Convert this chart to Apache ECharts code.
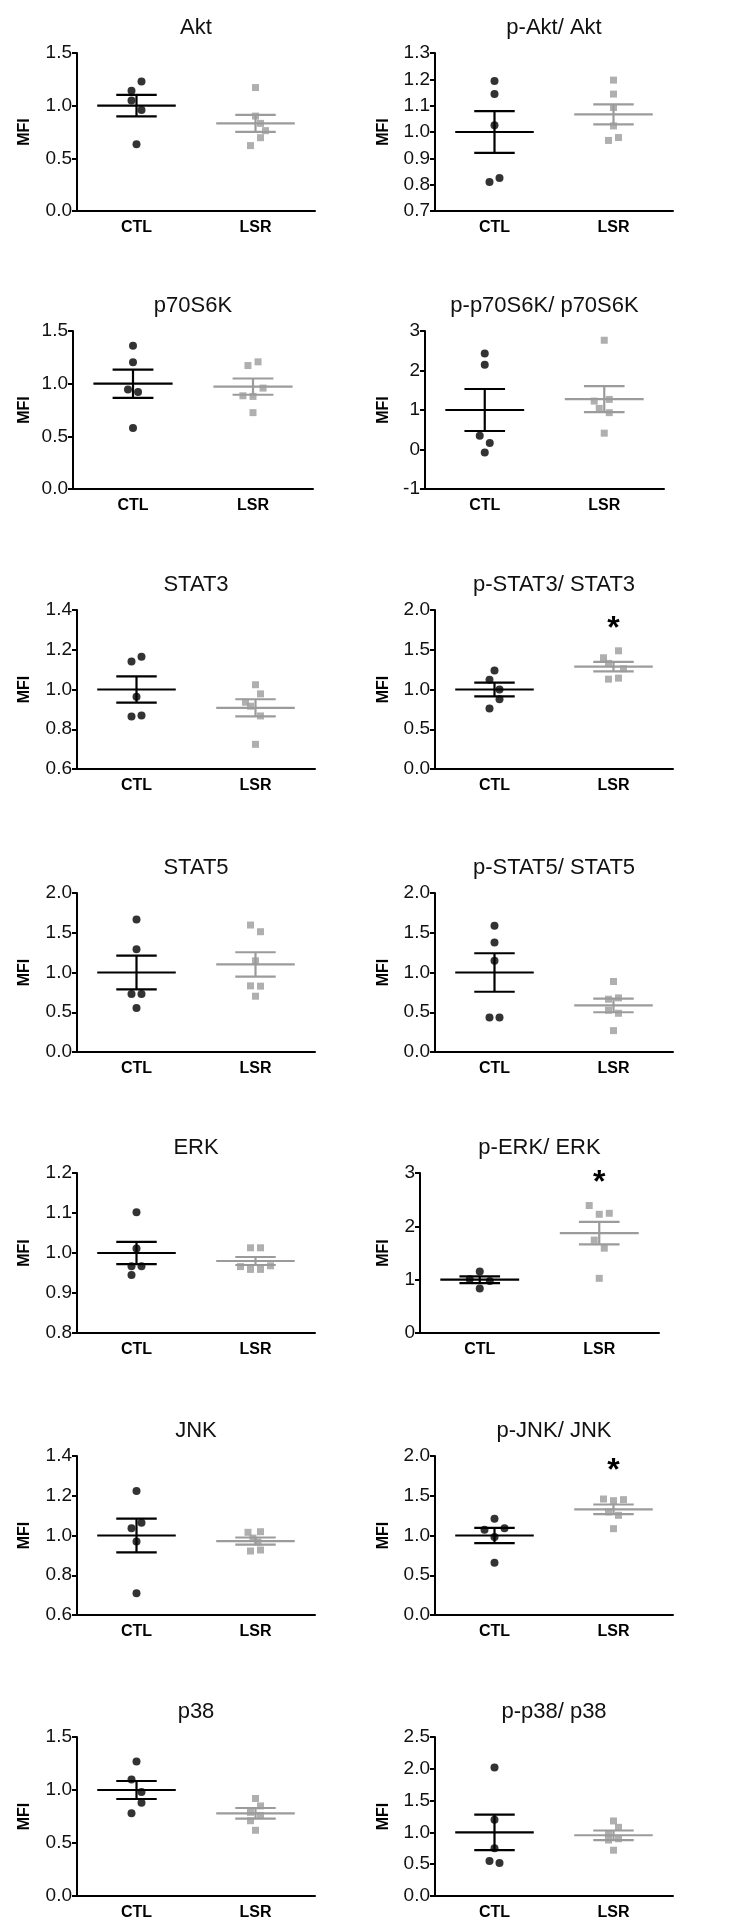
<!DOCTYPE html>
<html><head><meta charset="utf-8">
<script src="https://cdn.jsdelivr.net/npm/echarts@6/dist/echarts.min.js"></script>
<style>html,body{margin:0;padding:0;background:#fff}#c{width:734px;height:1925px}</style>
</head><body><div id="c"></div>
<script>
// ---------- DATA ----------
const groups = ['CTL', 'LSR'];
const titles = ['Akt', 'p-Akt/ Akt', 'p70S6K', 'p-p70S6K/ p70S6K', 'STAT3', 'p-STAT3/ STAT3',
  'STAT5', 'p-STAT5/ STAT5', 'ERK', 'p-ERK/ ERK', 'JNK', 'p-JNK/ JNK', 'p38', 'p-p38/ p38'];

// y axis ranges (min, max, interval, decimals of tick labels)
const yMin = [0, 0.7, 0, -1, 0.6, 0, 0, 0, 0.8, 0, 0.6, 0, 0, 0];
const yMax = [1.5, 1.3, 1.5, 3, 1.4, 2, 2, 2, 1.2, 3, 1.4, 2, 1.5, 2.5];
const yInterval = [0.5, 0.1, 0.5, 1, 0.2, 0.5, 0.5, 0.5, 0.1, 1, 0.2, 0.5, 0.5, 0.5];
const yDecimals = [1, 1, 1, 0, 1, 1, 1, 1, 1, 0, 1, 1, 1, 1];

const aktCTL = [1.229, 1.141, 1.049, 0.958, 0.633];
const aktLSR = [1.172, 0.901, 0.832, 0.763, 0.696, 0.621];
const aktMean = [1.00, 0.832];
const aktSEM = [0.102, 0.080];

const pAktCTL = [1.194, 1.144, 1.026, 0.825, 0.810];
const pAktLSR = [1.197, 1.144, 1.093, 1.023, 0.979, 0.968];
const pAktMean = [1.00, 1.067];
const pAktSEM = [0.079, 0.038];

const p70CTL = [1.361, 1.204, 0.945, 0.920, 0.580];
const p70LSR = [1.207, 1.172, 0.958, 0.885, 0.879, 0.725];
const p70Mean = [1.00, 0.972];
const p70SEM = [0.134, 0.077];

const pp70CTL = [2.431, 2.146, 0.347, 0.163, -0.079];
const pp70LSR = [2.766, 1.268, 1.226, 1.042, 0.933, 0.414];
const pp70Mean = [1.00, 1.275];
const pp70SEM = [0.532, 0.327];

const stat3CTL = [1.165, 1.141, 0.963, 0.869, 0.864];
const stat3LSR = [1.024, 0.978, 0.936, 0.916, 0.867, 0.724];
const stat3Mean = [1.00, 0.908];
const stat3SEM = [0.066, 0.043];

const pStat3CTL = [1.239, 1.122, 1.000, 0.878, 0.761];
const pStat3LSR = [1.487, 1.399, 1.328, 1.261, 1.143, 1.130];
const pStat3Mean = [1.00, 1.288];
const pStat3SEM = [0.086, 0.059];

const stat5CTL = [1.668, 1.294, 0.731, 0.731, 0.555];
const stat5LSR = [1.597, 1.513, 1.147, 0.832, 0.828, 0.702];
const stat5Mean = [1.00, 1.102];
const stat5SEM = [0.212, 0.153];

const pStat5CTL = [1.588, 1.378, 1.147, 0.433, 0.433];
const pStat5LSR = [0.887, 0.681, 0.664, 0.525, 0.487, 0.269];
const pStat5Mean = [1.00, 0.586];
const pStat5SEM = [0.242, 0.086];

const erkCTL = [1.102, 1.011, 0.967, 0.967, 0.945];
const erkLSR = [1.013, 1.013, 0.968, 0.966, 0.959, 0.959];
const erkMean = [1.00, 0.980];
const erkSEM = [0.028, 0.010];

const pErkCTL = [1.151, 1.006, 0.975, 0.836];
const pErkLSR = [2.390, 2.245, 2.226, 1.742, 1.591, 1.025];
const pErkMean = [1.00, 1.871];
const pErkSEM = [0.063, 0.211];

const jnkCTL = [1.224, 1.064, 1.036, 0.970, 0.710];
const jnkLSR = [1.019, 1.016, 0.987, 0.967, 0.927, 0.922];
const jnkMean = [1.00, 0.972];
const jnkSEM = [0.085, 0.018];

const pJnkCTL = [1.212, 1.090, 1.073, 0.981, 0.658];
const pJnkLSR = [1.459, 1.451, 1.438, 1.296, 1.254, 1.086];
const pJnkMean = [1.00, 1.329];
const pJnkSEM = [0.095, 0.061];

const p38CTL = [1.27, 1.10, 0.98, 0.88, 0.78];
const p38LSR = [0.92, 0.85, 0.79, 0.76, 0.71, 0.62];
const p38Mean = [1.00, 0.78];
const p38SEM = [0.085, 0.05];

const pP38CTL = [2.02, 1.20, 0.75, 0.55, 0.52];
const pP38LSR = [1.18, 1.08, 0.98, 0.90, 0.88, 0.72];
const pP38Mean = [1.00, 0.955];
const pP38SEM = [0.28, 0.075];

// significance marks (value at which the "*" sits above LSR), null = none
const starY = [null, null, null, null, null, 1.83, null, null, null, 2.92, null, 1.887, null, null];

// ---------- JITTER (horizontal scatter spread, in steps) ----------
const jitCTL = [[1,-1,-1,1,0],[0,0,0,1,-1],[0,0,-1,1,0],[0,0,-1,1,0],[1,-1,0,1,-1],[0,-1,1,1,-1],[0,0,-1,1,0],
  [0,0,0,-1,1],[0,0,-1,1,-1],[0,-2,2,0],[0,1,-1,0,0],[0,2,-2,0,0],[0,-1,1,1,-1],[0,0,0,-1,1]];
const jitLSR = [[0,0,1,2,1,-1],[0,0,0,0,1,-1],[1,-1,2,-2,0,0],[0,1,-2,-1,1,0],[0,1,-2,-1,1,0],[1,-2,-1,2,1,-1],
  [-1,1,0,-1,1,0],[0,1,-1,-1,1,0],[-1,1,3,-3,-1,1],[-2,2,0,-1,1,0],[1,-1.5,-0.5,0.5,1,-1],[-2,2,0,-1,1,0],
  [0,1,-1,1,-1,0],[0,1,-1,1,-1,0]];

const ctlVals = [aktCTL, pAktCTL, p70CTL, pp70CTL, stat3CTL, pStat3CTL, stat5CTL, pStat5CTL, erkCTL, pErkCTL, jnkCTL, pJnkCTL, p38CTL, pP38CTL];
const lsrVals = [aktLSR, pAktLSR, p70LSR, pp70LSR, stat3LSR, pStat3LSR, stat5LSR, pStat5LSR, erkLSR, pErkLSR, jnkLSR, pJnkLSR, p38LSR, pP38LSR];
const means = [aktMean, pAktMean, p70Mean, pp70Mean, stat3Mean, pStat3Mean, stat5Mean, pStat5Mean, erkMean, pErkMean, jnkMean, pJnkMean, p38Mean, pP38Mean];
const sems = [aktSEM, pAktSEM, p70SEM, pp70SEM, stat3SEM, pStat3SEM, stat5SEM, pStat5SEM, erkSEM, pErkSEM, jnkSEM, pJnkSEM, p38SEM, pP38SEM];

// ---------- LAYOUT / STYLE ----------
const FONT = 'Liberation Sans, Arial, Helvetica, sans-serif';
const CTL_COLOR = '#000000';
const LSR_COLOR = '#9b9b9b';
const JIT = 0.042;          // x-units per jitter step
const MEAN_HW = 0.33;       // half width of mean line (x units)
const CAP_HW = 0.17;        // half width of SEM caps
const rowTop = [53, 331, 610, 893, 1173, 1456, 1737];
const rowH = [158, 158, 159, 159, 160, 159, 159];
const leftX = [77, 73, 77, 77, 77, 77, 77];
const leftW = [238, 240, 238, 238, 238, 238, 238];
const rightX = [435, 425, 435, 435, 420, 435, 435];
const rightW = [238, 239, 238, 238, 239, 238, 238];
const mfiX = [25, 384];

const chart = echarts.init(document.getElementById('c'), null, {renderer: 'canvas'});

const grid = [], xAxis = [], yAxis = [], series = [], title = [];

function meanSemItem(params, api) {
  const x = api.value(0), m = api.value(1), s = api.value(2);
  const color = params.dataIndex === 0 ? CTL_COLOR : LSR_COLOR;
  const pm = api.coord([x, m]);
  const pu = api.coord([x, m + s]);
  const pl = api.coord([x, m - s]);
  const hw = api.size([MEAN_HW, 0])[0];
  const cw = api.size([CAP_HW, 0])[0];
  const style = {stroke: color, lineWidth: 2.2};
  return {type: 'group', children: [
    {type: 'line', shape: {x1: pm[0] - hw, y1: pm[1], x2: pm[0] + hw, y2: pm[1]}, style},
    {type: 'line', shape: {x1: pu[0] - cw, y1: pu[1], x2: pu[0] + cw, y2: pu[1]}, style},
    {type: 'line', shape: {x1: pl[0] - cw, y1: pl[1], x2: pl[0] + cw, y2: pl[1]}, style},
    {type: 'line', shape: {x1: pu[0], y1: pu[1], x2: pl[0], y2: pl[1]}, style}
  ]};
}

function starItem(params, api) {
  const p = api.coord([api.value(0), api.value(1)]);
  return {type: 'text', x: p[0], y: p[1] + 6, style: {text: '*', fill: '#000', font: 'bold 32px ' + FONT, align: 'center', verticalAlign: 'middle'}};
}

for (let i = 0; i < 14; i++) {
  const r = Math.floor(i / 2), side = i % 2;
  const gl = side ? rightX[r] : leftX[r];
  const gw = side ? rightW[r] : leftW[r];
  grid.push({left: gl, top: rowTop[r], width: gw, height: rowH[r]});
  title.push({text: titles[i], left: gl + gw / 2, top: rowTop[r] - 37, textAlign: 'center', padding: 0,
    textStyle: {fontFamily: FONT, fontSize: 22, fontWeight: 'normal', color: '#111', lineHeight: 24}});
  xAxis.push({gridIndex: i, type: 'category', data: groups, boundaryGap: true,
    axisLine: {onZero: false, lineStyle: {color: '#000', width: 2}},
    axisTick: {alignWithLabel: true, length: 5, lineStyle: {color: '#000', width: 2}},
    axisLabel: {color: '#000', fontFamily: FONT, fontSize: 16, fontWeight: 'bold', margin: 9},
    splitLine: {show: false}});
  xAxis.push({gridIndex: i, type: 'value', min: 0, max: 2, show: false});
  const dec = yDecimals[i];
  yAxis.push({gridIndex: i, type: 'value', min: yMin[i], max: yMax[i], interval: yInterval[i],
    axisLine: {show: true, onZero: false, lineStyle: {color: '#000', width: 2}},
    axisTick: {show: true, length: 5, lineStyle: {color: '#000', width: 2}},
    axisLabel: {color: '#111', fontFamily: FONT, fontSize: 19, margin: 5, formatter: v => Number(v).toFixed(dec)},
    splitLine: {show: false},
    name: 'MFI', nameLocation: 'middle', nameRotate: 90, nameGap: gl - mfiX[side] - 8,
    nameTextStyle: {color: '#000', fontFamily: FONT, fontSize: 16, fontWeight: 'bold'}});
  const xi = 2 * i + 1;
  series.push({type: 'scatter', xAxisIndex: xi, yAxisIndex: i, symbol: 'circle', symbolSize: 8,
    itemStyle: {color: CTL_COLOR}, silent: true,
    data: ctlVals[i].map((v, k) => [0.5 + jitCTL[i][k] * JIT, v])});
  series.push({type: 'scatter', xAxisIndex: xi, yAxisIndex: i, symbol: 'rect', symbolSize: 7,
    itemStyle: {color: LSR_COLOR}, silent: true,
    data: lsrVals[i].map((v, k) => [1.5 + jitLSR[i][k] * JIT, v])});
  series.push({type: 'custom', xAxisIndex: xi, yAxisIndex: i, renderItem: meanSemItem, silent: true,
    data: [[0.5, means[i][0], sems[i][0]], [1.5, means[i][1], sems[i][1]]]});
  if (starY[i] !== null) {
    series.push({type: 'custom', xAxisIndex: xi, yAxisIndex: i, renderItem: starItem, silent: true, clip: false,
      data: [[1.5, starY[i]]]});
  }
}

chart.setOption({animation: false, backgroundColor: '#fff', title, grid, xAxis, yAxis, series});
</script>
</body></html>
